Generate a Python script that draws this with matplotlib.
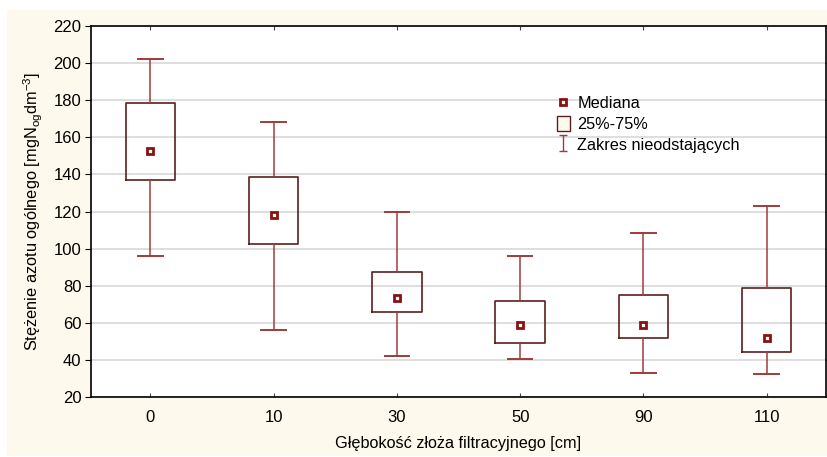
import matplotlib
matplotlib.use("Agg")
import matplotlib.pyplot as plt
from matplotlib.patches import Rectangle
from matplotlib.lines import Line2D
from matplotlib.path import Path

plt.rcParams["font.family"] = ["Liberation Sans", "DejaVu Sans"]
plt.rcParams["mathtext.default"] = "regular"

# data
depths = ["0", "10", "30", "50", "90", "110"]
whisker_low = [96, 56, 42, 40.6, 33, 32.6]
q1 = [137, 102.5, 65.8, 49.3, 52, 44.3]
medians = [152.6, 118, 73.4, 59, 59, 51.6]
q3 = [178.5, 138.6, 87.4, 71.8, 75.1, 78.9]
whisker_high = [202.2, 168.2, 119.7, 96.2, 108.6, 123]

cream = "#fdf9ec"
box_col = "#5c1f1f"
whisk_col = "#a23a3a"
med_col = "#8b1010"

fig = plt.figure(figsize=(8.27, 4.57), dpi=100)
fig.patch.set_facecolor("white")
fig.patches.append(Rectangle((7 / 827, 1 / 457), 820 / 827, 446 / 457,
                             transform=fig.transFigure, facecolor=cream,
                             edgecolor="none", zorder=-10))

ax = fig.add_axes([91 / 827, 1 - 397 / 457, 735 / 827, 371 / 457])
ax.set_facecolor("white")

stats = []
for i, name in enumerate(depths):
    stats.append({"label": name, "whislo": whisker_low[i], "q1": q1[i],
                  "med": medians[i], "q3": q3[i], "whishi": whisker_high[i],
                  "fliers": []})

positions = list(range(len(depths)))
ax.bxp(stats, positions=positions, widths=0.4, showfliers=False,
       boxprops=dict(color=box_col, linewidth=1.2),
       whiskerprops=dict(color=whisk_col, linewidth=1.1),
       capprops=dict(color=whisk_col, linewidth=1.4),
       medianprops=dict(linestyle="none"),
       capwidths=0.2, manage_ticks=False, zorder=3)
ax.plot(positions, medians, linestyle="none", marker="s", markersize=5,
        markerfacecolor="white", markeredgecolor=med_col,
        markeredgewidth=2, zorder=4)

ax.set_xlim(-0.48, 5.48)
ax.set_ylim(20, 220)
ax.set_yticks(range(20, 221, 20))
ax.set_xticks(positions)
ax.set_xticklabels(depths)
ax.yaxis.grid(True, color="#d8d8d8", linewidth=1.2)
ax.set_axisbelow(True)

ax.tick_params(axis="x", direction="in", top=True, length=3, labelsize=12,
               pad=9, color="#444444")
ax.tick_params(axis="y", direction="out", right=True, length=4,
               labelsize=12, pad=3)
for s in ax.spines.values():
    s.set_linewidth(1.2)

ax.set_xlabel("Głębokość złoża filtracyjnego [cm]", fontsize=11.7, labelpad=8)
ax.set_ylabel(r"Stężenie azotu ogólnego [mgN$_{og}$dm$^{-3}$]",
              fontsize=11.8, labelpad=6)

# I-beam symbol for the whisker range in the legend
ibeam = Path([(-0.5, 1), (0.5, 1), (0, 1), (0, -1), (-0.5, -1), (0.5, -1)],
             [Path.MOVETO, Path.LINETO, Path.MOVETO, Path.LINETO,
              Path.MOVETO, Path.LINETO])
handles = [
    Line2D([], [], linestyle="none", marker="s", markersize=5,
           markerfacecolor="white", markeredgecolor=med_col,
           markeredgewidth=2),
    Rectangle((0, 0), 1, 1, facecolor=cream, edgecolor=box_col, linewidth=1),
    Line2D([], [], linestyle="none", marker=ibeam, markersize=12,
           markerfacecolor="none", markeredgecolor=whisk_col,
           markeredgewidth=1),
]
leg = ax.legend(handles, ["Mediana", "25%-75%", "Zakres nieodstających"],
                loc="upper left", bbox_to_anchor=(0.625, 0.83), frameon=False,
                fontsize=11.7, handlelength=0.8, handleheight=1.0,
                handletextpad=0.45, labelspacing=0.3, borderaxespad=0)

fig.savefig("out.png", dpi=100, facecolor=fig.get_facecolor())
